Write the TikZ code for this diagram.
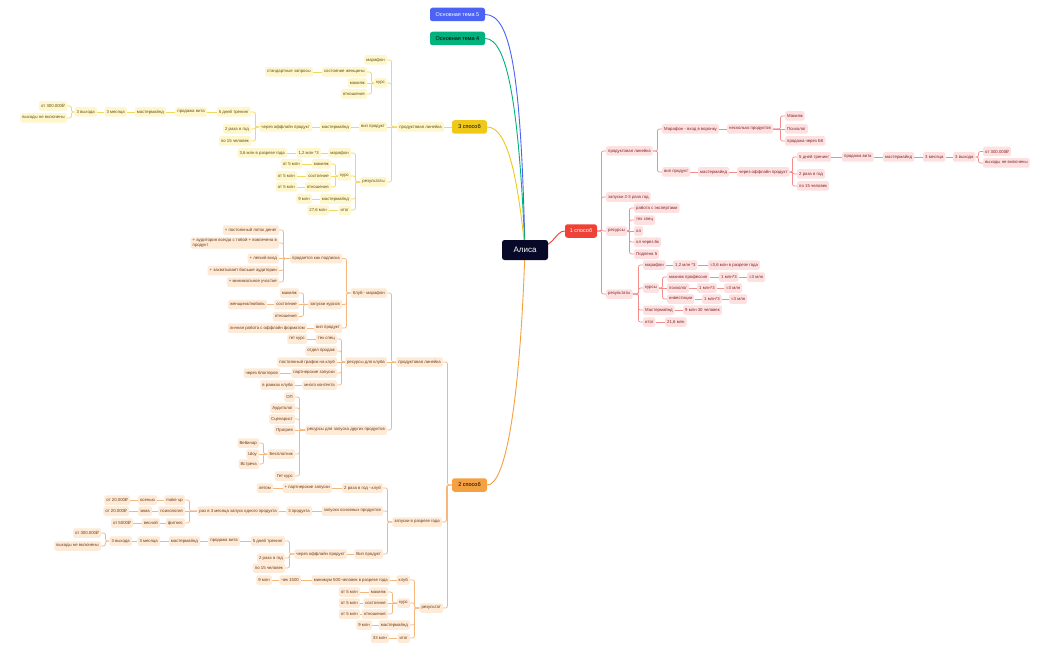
\documentclass[tikz,border=0pt]{standalone}
\usepackage{fontspec}
\setmainfont{Liberation Sans}
\newfontfamily\dejavufam{DejaVu Sans}
\newcommand\rubsign{{\dejavufam ₽}}
\usetikzlibrary{calc,backgrounds}
\definecolor{rline}{RGB}{245,140,140}
\definecolor{rfill}{RGB}{253,225,225}
\definecolor{rtext}{RGB}{130,35,35}
\definecolor{yline}{RGB}{245,215,90}
\definecolor{yfill}{RGB}{254,246,205}
\definecolor{ytext}{RGB}{100,80,20}
\definecolor{oline}{RGB}{247,182,122}
\definecolor{ofill}{RGB}{253,234,215}
\definecolor{otext}{RGB}{110,60,25}
\definecolor{tblue}{RGB}{74,99,245}
\definecolor{tgreen}{RGB}{0,178,125}
\definecolor{tyellow}{RGB}{240,200,25}
\definecolor{torange}{RGB}{245,160,65}
\definecolor{tred}{RGB}{240,65,55}
\definecolor{tnavy}{RGB}{8,8,40}
\tikzset{
  base/.style={rounded corners=1.5pt, inner xsep=2pt, inner ysep=1pt, minimum height=9.5pt, font=\fontsize{4.3}{5}\selectfont},
  rn/.style={base, fill=rfill, text=rtext},
  yn/.style={base, fill=yfill, text=ytext},
  on/.style={base, fill=ofill, text=otext},
  rl/.style={draw=rline, line width=0.7pt, rounded corners=2pt},
  yl/.style={draw=yline, line width=0.7pt, rounded corners=2pt},
  ol/.style={draw=oline, line width=0.7pt, rounded corners=2pt},
  topic/.style={rounded corners=2.5pt, inner xsep=4pt, inner ysep=1pt, minimum height=13.5pt, font=\fontsize{5.5}{6}\selectfont},
  curve/.style={line width=0.9pt},
}
% left-side node (east edge given), right-side node (west edge given)
\newcommand\mnL[5]{\node[#1,anchor=east] (#2) at (#3,#4) {#5};}
\newcommand\mnR[5]{\node[#1,anchor=west] (#2) at (#3,#4) {#5};}
% elbow connectors
\newcommand\meL[3]{\draw[#1] (#2.west) -| ($(#3.east)+(4.5,0)$) -- (#3.east);}
\newcommand\meR[3]{\draw[#1] (#2.east) -| ($(#3.west)+(-4.5,0)$) -- (#3.west);}
% straight connectors
\newcommand\mcL[3]{\draw[#1] (#2.west) -- (#3.east);}
\newcommand\mcR[3]{\draw[#1] (#2.east) -- (#3.west);}
\begin{document}
\begin{tikzpicture}[x=1pt,y=-1pt]
\useasboundingbox (0,0) rectangle (1050,650);
% ---------- main topics ----------
\node[topic, fill=tnavy, text=white, minimum width=46pt, minimum height=20pt, font=\fontsize{8}{9}\selectfont] (alisa) at (525,250) {Алиса};
\node[topic, fill=tblue, text=white, minimum width=55pt] (t5) at (457.5,14.5) {Основная тема 5};
\node[topic, fill=tgreen, text=black, minimum width=55pt] (t4) at (457.5,38.5) {Основная тема 4};
\node[topic, fill=tyellow, text=black, minimum width=35pt] (s3) at (469.5,127) {3 способ};
\node[topic, fill=torange, text=black, minimum width=35pt] (s2) at (469.5,485) {2 способ};
\node[topic, fill=tred, text=white, minimum width=32pt] (s1) at (581,231) {1 способ};

% ---------- 1 способ (right, red) ----------
\mnR{rn}{r1}{606}{151}{продуктовая линейка}
\mnR{rn}{r2}{606}{197}{запуски 2-3 раза год}
\mnR{rn}{r3}{606}{231}{ресурсы}
\mnR{rn}{r4}{606}{294}{результаты}
\meR{rl}{s1}{r1}\meR{rl}{s1}{r2}\meR{rl}{s1}{r3}\meR{rl}{s1}{r4}

\mnR{rn}{r11}{662}{129}{Марафон - вход в воронку}
\mnR{rn}{r12}{662}{172}{вип продукт}
\meR{rl}{r1}{r11}\meR{rl}{r1}{r12}
\mnR{rn}{r111}{727}{129}{несколько продуктов}
\mcR{rl}{r11}{r111}
\mnR{rn}{r1111}{785}{116}{Макияж}
\mnR{rn}{r1112}{785}{129}{Психолог}
\mnR{rn}{r1113}{785}{141}{продажа через БК}
\meR{rl}{r111}{r1111}\mcR{rl}{r111}{r1112}\meR{rl}{r111}{r1113}
\mnR{rn}{r121}{698}{172}{мастермайнд}
\mnR{rn}{r122}{737}{172}{через оффлайн продукт}
\mcR{rl}{r12}{r121}\mcR{rl}{r121}{r122}
\mnR{rn}{r1221}{797}{157}{5 дней тренинг}
\mnR{rn}{r1222}{797}{174}{2 раза в год}
\mnR{rn}{r1223}{797}{186}{по 15 человек}
\meR{rl}{r122}{r1221}\meR{rl}{r122}{r1222}\meR{rl}{r122}{r1223}
\mnR{rn}{r13}{842}{157}{продажа вита}
\mnR{rn}{r14}{883}{157}{мастермайнд}
\mnR{rn}{r15}{923}{157}{3 месяца}
\mnR{rn}{r16}{953}{157}{3 выхода}
\mcR{rl}{r1221}{r13}\mcR{rl}{r13}{r14}\mcR{rl}{r14}{r15}\mcR{rl}{r15}{r16}
\mnR{rn}{r161}{983}{151.5}{от 300.000\rubsign}
\mnR{rn}{r162}{983}{163}{выходы не включены}
\meR{rl}{r16}{r161}\meR{rl}{r16}{r162}

\mnR{rn}{r31}{634}{208}{работа с экспертами}
\mnR{rn}{r32}{634}{220}{тех спец}
\mnR{rn}{r33}{634}{231}{ол}
\mnR{rn}{r34}{634}{242}{ол через бк}
\mnR{rn}{r35}{634}{254}{Подпена 5}
\meR{rl}{r3}{r31}\meR{rl}{r3}{r32}\mcR{rl}{r3}{r33}\meR{rl}{r3}{r34}\meR{rl}{r3}{r35}

\mnR{rn}{r41}{643}{265}{марафон}
\mnR{rn}{r42}{643}{288}{курсы}
\mnR{rn}{r43}{643}{310}{Мастермайнд}
\mnR{rn}{r44}{643}{322}{итог}
\meR{rl}{r4}{r41}\meR{rl}{r4}{r42}\meR{rl}{r4}{r43}\meR{rl}{r4}{r44}
\mnR{rn}{r411}{673}{265}{1,2 млн *3}
\mnR{rn}{r412}{708}{265}{=3,6 млн в разрезе года}
\mcR{rl}{r41}{r411}\mcR{rl}{r411}{r412}
\mnR{rn}{r421}{667}{277}{макияж профессия}
\mnR{rn}{r422}{667}{288}{психолог}
\mnR{rn}{r423}{667}{299}{инвестиции}
\meR{rl}{r42}{r421}\mcR{rl}{r42}{r422}\meR{rl}{r42}{r423}
\mnR{rn}{r4211}{719}{277}{1 млн*3}
\mnR{rn}{r4212}{747}{277}{=3 млн}
\mnR{rn}{r4221}{697}{288}{1 млн*3}
\mnR{rn}{r4222}{724}{288}{=3 млн}
\mnR{rn}{r4231}{702}{299}{1 млн*3}
\mnR{rn}{r4232}{729}{299}{=3 млн}
\mcR{rl}{r421}{r4211}\mcR{rl}{r4211}{r4212}
\mcR{rl}{r422}{r4221}\mcR{rl}{r4221}{r4222}
\mcR{rl}{r423}{r4231}\mcR{rl}{r4231}{r4232}
\mnR{rn}{r431}{683}{310}{9 млн 30 человек}
\mnR{rn}{r441}{665}{322}{21,6 млн}
\mcR{rl}{r43}{r431}\mcR{rl}{r44}{r441}

% ---------- 3 способ (left, yellow) ----------
\mnL{yn}{y1}{444}{127}{продуктовая линейка}
\mcL{yl}{s3}{y1}
\mnL{yn}{y11}{387}{60}{марафон}
\mnL{yn}{y12}{387}{83}{курс}
\mnL{yn}{y13}{387}{127}{вип продукт}
\mnL{yn}{y14}{387}{182}{результаты}
\meL{yl}{y1}{y11}\meL{yl}{y1}{y12}\mcL{yl}{y1}{y13}\meL{yl}{y1}{y14}
\mnL{yn}{y121}{367}{72}{состояние женщины}
\mnL{yn}{y122}{367}{83}{макияж}
\mnL{yn}{y123}{367}{94}{отношения}
\meL{yl}{y12}{y121}\mcL{yl}{y12}{y122}\meL{yl}{y12}{y123}
\mnL{yn}{y1211}{313}{72}{стандартные запросы}
\mcL{yl}{y121}{y1211}
\mnL{yn}{y131}{351}{127}{мастермайнд}
\mnL{yn}{y132}{312}{127}{через оффлайн продукт}
\mcL{yl}{y13}{y131}\mcL{yl}{y131}{y132}
\mnL{yn}{y1321}{251}{112}{5 дней тренинг}
\mnL{yn}{y1322}{251}{129}{2 раза в год}
\mnL{yn}{y1323}{251}{141}{по 15 человек}
\meL{yl}{y132}{y1321}\meL{yl}{y132}{y1322}\meL{yl}{y132}{y1323}
\mnL{yn}{y133}{207}{112}{продажа вита}
\mnL{yn}{y134}{166}{112}{мастермайнд}
\mnL{yn}{y135}{127}{112}{3 месяца}
\mnL{yn}{y136}{97}{112}{3 выхода}
\mcL{yl}{y1321}{y133}\mcL{yl}{y133}{y134}\mcL{yl}{y134}{y135}\mcL{yl}{y135}{y136}
\mnL{yn}{y1361}{67}{106}{от 300.000\rubsign}
\mnL{yn}{y1362}{67}{118}{выходы не включены}
\meL{yl}{y136}{y1361}\meL{yl}{y136}{y1362}

\mnL{yn}{y141}{351}{153}{марафон}
\mnL{yn}{y142}{351}{176}{курс}
\mnL{yn}{y143}{351}{199}{мастермайнд}
\mnL{yn}{y144}{351}{210}{итог}
\meL{yl}{y14}{y141}\meL{yl}{y14}{y142}\meL{yl}{y14}{y143}\meL{yl}{y14}{y144}
\mnL{yn}{y1411}{321}{153}{1,2 млн *3}
\mnL{yn}{y1412}{287}{153}{3,6 млн в разрезе года}
\mcL{yl}{y141}{y1411}\mcL{yl}{y1411}{y1412}
\mnL{yn}{y1421}{331}{164}{макияж}
\mnL{yn}{y1422}{331}{176}{состояние}
\mnL{yn}{y1423}{331}{187}{отношения}
\meL{yl}{y142}{y1421}\mcL{yl}{y142}{y1422}\meL{yl}{y142}{y1423}
\mnL{yn}{y14211}{302}{164}{от 5 млн}
\mnL{yn}{y14221}{297}{176}{от 5 млн}
\mnL{yn}{y14231}{297}{187}{от 5 млн}
\mcL{yl}{y1421}{y14211}\mcL{yl}{y1422}{y14221}\mcL{yl}{y1423}{y14231}
\mnL{yn}{y1431}{312}{199}{9 млн}
\mnL{yn}{y1441}{329}{210}{27,6 млн}
\mcL{yl}{y143}{y1431}\mcL{yl}{y144}{y1441}

% ---------- 2 способ (left, orange) ----------
\mnL{on}{o1}{443}{362}{продуктовая линейка}
\mnL{on}{o2}{442}{522}{запуски в разрезе года}
\mnL{on}{o3}{443}{608}{результат}
\meL{ol}{s2}{o1}\meL{ol}{s2}{o2}\meL{ol}{s2}{o3}

\mnL{on}{o11}{387}{293}{Клуб - марафон}
\mnL{on}{o12}{387}{362}{ресурсы для клуба}
\mnL{on}{o13}{387}{430}{ресурсы для запуска других продуктов}
\meL{ol}{o1}{o11}\mcL{ol}{o1}{o12}\meL{ol}{o1}{o13}
\mnL{on}{o111}{342}{258.5}{продается как подписка}
\mnL{on}{o112}{342}{304.5}{запуски курсов}
\mnL{on}{o113}{342}{328}{вип продукт}
\meL{ol}{o11}{o111}\meL{ol}{o11}{o112}\meL{ol}{o11}{o113}
\mnL{on}{o1111}{279}{230}{+ постоянный поток денег}
\node[on, anchor=east, align=left] (o1112) at (279,243) {+ аудитория всегда с тобой + вовлечена в\\продукт};
\mnL{on}{o1113}{279}{258.5}{+ легкий вход}
\mnL{on}{o1114}{279}{270.5}{+ захватывает больше аудитории}
\mnL{on}{o1115}{279}{282}{+ минимальное участие}
\meL{ol}{o111}{o1111}\meL{ol}{o111}{o1112}\mcL{ol}{o111}{o1113}\meL{ol}{o111}{o1114}\meL{ol}{o111}{o1115}
\mnL{on}{o1121}{299}{293}{макияж}
\mnL{on}{o1122}{299}{304.5}{состояние}
\mnL{on}{o1123}{299}{316.5}{отношения}
\meL{ol}{o112}{o1121}\mcL{ol}{o112}{o1122}\meL{ol}{o112}{o1123}
\mnL{on}{o11221}{267}{304.5}{женщина/любовь}
\mcL{ol}{o1122}{o11221}
\mnL{on}{o1131}{307}{328}{личная работа с оффлайн форматом}
\mcL{ol}{o113}{o1131}

\mnL{on}{o121}{337}{339}{тех спец}
\mnL{on}{o122}{337}{351}{отдел продаж}
\mnL{on}{o123}{337}{362}{постоянный график на клуб}
\mnL{on}{o124}{337}{373}{партнерские запуски}
\mnL{on}{o125}{337}{385}{много контента}
\meL{ol}{o12}{o121}\meL{ol}{o12}{o122}\mcL{ol}{o12}{o123}\meL{ol}{o12}{o124}\meL{ol}{o12}{o125}
\mnL{on}{o1211}{307}{339}{гет курс}
\mnL{on}{o1241}{280}{373}{через блоггеров}
\mnL{on}{o1251}{295}{385}{в рамках клуба}
\mcL{ol}{o121}{o1211}\mcL{ol}{o124}{o1241}\mcL{ol}{o125}{o1251}

\mnL{on}{o131}{295}{397}{ОП}
\mnL{on}{o132}{295}{408}{Аудитолог}
\mnL{on}{o133}{295}{419}{Сценарист}
\mnL{on}{o134}{295}{430}{Прогрев}
\mnL{on}{o135}{295}{454}{Бесплатник}
\mnL{on}{o136}{295}{476}{Гет курс}
\meL{ol}{o13}{o131}\meL{ol}{o13}{o132}\meL{ol}{o13}{o133}\mcL{ol}{o13}{o134}\meL{ol}{o13}{o135}\meL{ol}{o13}{o136}
\mnL{on}{o1351}{259}{443}{Вебинар}
\mnL{on}{o1352}{259}{454}{Шоу}
\mnL{on}{o1353}{259}{464}{Встреча}
\meL{ol}{o135}{o1351}\mcL{ol}{o135}{o1352}\meL{ol}{o135}{o1353}

\mnL{on}{o21}{383}{488}{2 раза в год - клуб}
\mnL{on}{o22}{383}{511}{запуски основных продуктов}
\mnL{on}{o23}{383}{554}{Вип продукт}
\meL{ol}{o2}{o21}\meL{ol}{o2}{o22}\meL{ol}{o2}{o23}
\mnL{on}{o211}{332}{488}{+ партнерские запуски}
\mnL{on}{o212}{273}{488}{летом}
\mcL{ol}{o21}{o211}\mcL{ol}{o211}{o212}
\mnL{on}{o221}{312}{511}{3 продукта}
\mnL{on}{o222}{279}{511}{раз в 3 месяца запуск одного продукта}
\mcL{ol}{o22}{o221}\mcL{ol}{o221}{o222}
\mnL{on}{o2221}{185}{500}{make up}
\mnL{on}{o2222}{185}{511}{психология}
\mnL{on}{o2223}{185}{523}{фитнес}
\meL{ol}{o222}{o2221}\mcL{ol}{o222}{o2222}\meL{ol}{o222}{o2223}
\mnL{on}{o22211}{157}{500}{осенью}
\mnL{on}{o22212}{130}{500}{от 20.000\rubsign}
\mnL{on}{o22221}{152}{511}{зима}
\mnL{on}{o22222}{129}{511}{от 20.000\rubsign}
\mnL{on}{o22231}{160}{523}{весной}
\mnL{on}{o22232}{133}{523}{от 5000\rubsign}
\mcL{ol}{o2221}{o22211}\mcL{ol}{o22211}{o22212}
\mcL{ol}{o2222}{o22221}\mcL{ol}{o22221}{o22222}
\mcL{ol}{o2223}{o22231}\mcL{ol}{o22231}{o22232}
\mnL{on}{o231}{347}{554}{через оффлайн продукт}
\mcL{ol}{o23}{o231}
\mnL{on}{o2311}{285}{541}{5 дней тренинг}
\mnL{on}{o2312}{285}{558}{2 раза в год}
\mnL{on}{o2313}{285}{568}{по 15 человек}
\meL{ol}{o231}{o2311}\meL{ol}{o231}{o2312}\meL{ol}{o231}{o2313}
\mnL{on}{o232}{240}{541}{продажа вита}
\mnL{on}{o233}{200}{541}{мастермайнд}
\mnL{on}{o234}{160}{541}{3 месяца}
\mnL{on}{o235}{132}{541}{3 выхода}
\mcL{ol}{o2311}{o232}\mcL{ol}{o232}{o233}\mcL{ol}{o233}{o234}\mcL{ol}{o234}{o235}
\mnL{on}{o2351}{101}{533}{от 300.000\rubsign}
\mnL{on}{o2352}{101}{546}{выходы не включены}
\meL{ol}{o235}{o2351}\meL{ol}{o235}{o2352}

\mnL{on}{o31}{410}{580}{клуб}
\mnL{on}{o32}{410}{603}{курс}
\mnL{on}{o33}{410}{625}{мастермайнд}
\mnL{on}{o34}{410}{638}{итог}
\meL{ol}{o3}{o31}\meL{ol}{o3}{o32}\meL{ol}{o3}{o33}\meL{ol}{o3}{o34}
\mnL{on}{o311}{390}{580}{минимум 500 человек в разрезе года}
\mnL{on}{o312}{301}{580}{чек 1500}
\mnL{on}{o313}{272}{580}{9 млн}
\mcL{ol}{o31}{o311}\mcL{ol}{o311}{o312}\mcL{ol}{o312}{o313}
\mnL{on}{o321}{388}{592}{макияж}
\mnL{on}{o322}{388}{603}{состояние}
\mnL{on}{o323}{388}{614}{отношения}
\meL{ol}{o32}{o321}\mcL{ol}{o32}{o322}\meL{ol}{o32}{o323}
\mnL{on}{o3211}{360}{592}{от 5 млн}
\mnL{on}{o3221}{360}{603}{от 5 млн}
\mnL{on}{o3231}{360}{614}{от 5 млн}
\mcL{ol}{o321}{o3211}\mcL{ol}{o322}{o3221}\mcL{ol}{o323}{o3231}
\mnL{on}{o331}{372}{625}{9 млн}
\mnL{on}{o341}{389}{638}{33 млн}
\mcL{ol}{o33}{o331}\mcL{ol}{o34}{o341}

% ---------- curves from the centre ----------
\begin{scope}[on background layer]
\fill[white] (0,0) rectangle (1050,650);
\draw[curve, tblue] (alisa.center) .. controls (521,80) and (512,14.5) .. (t5.east);
\draw[curve, tgreen] (alisa.center) .. controls (519,110) and (508,38.5) .. (t4.east);
\draw[curve, tyellow] (alisa.center) .. controls (518,180) and (508,127) .. (s3.east);
\draw[curve, torange] (alisa.center) .. controls (520,400) and (506,485) .. (s2.east);
\draw[curve, tred] (alisa.center) .. controls (556,250) and (554,231) .. (s1.west);
\end{scope}
\end{tikzpicture}
\end{document}
